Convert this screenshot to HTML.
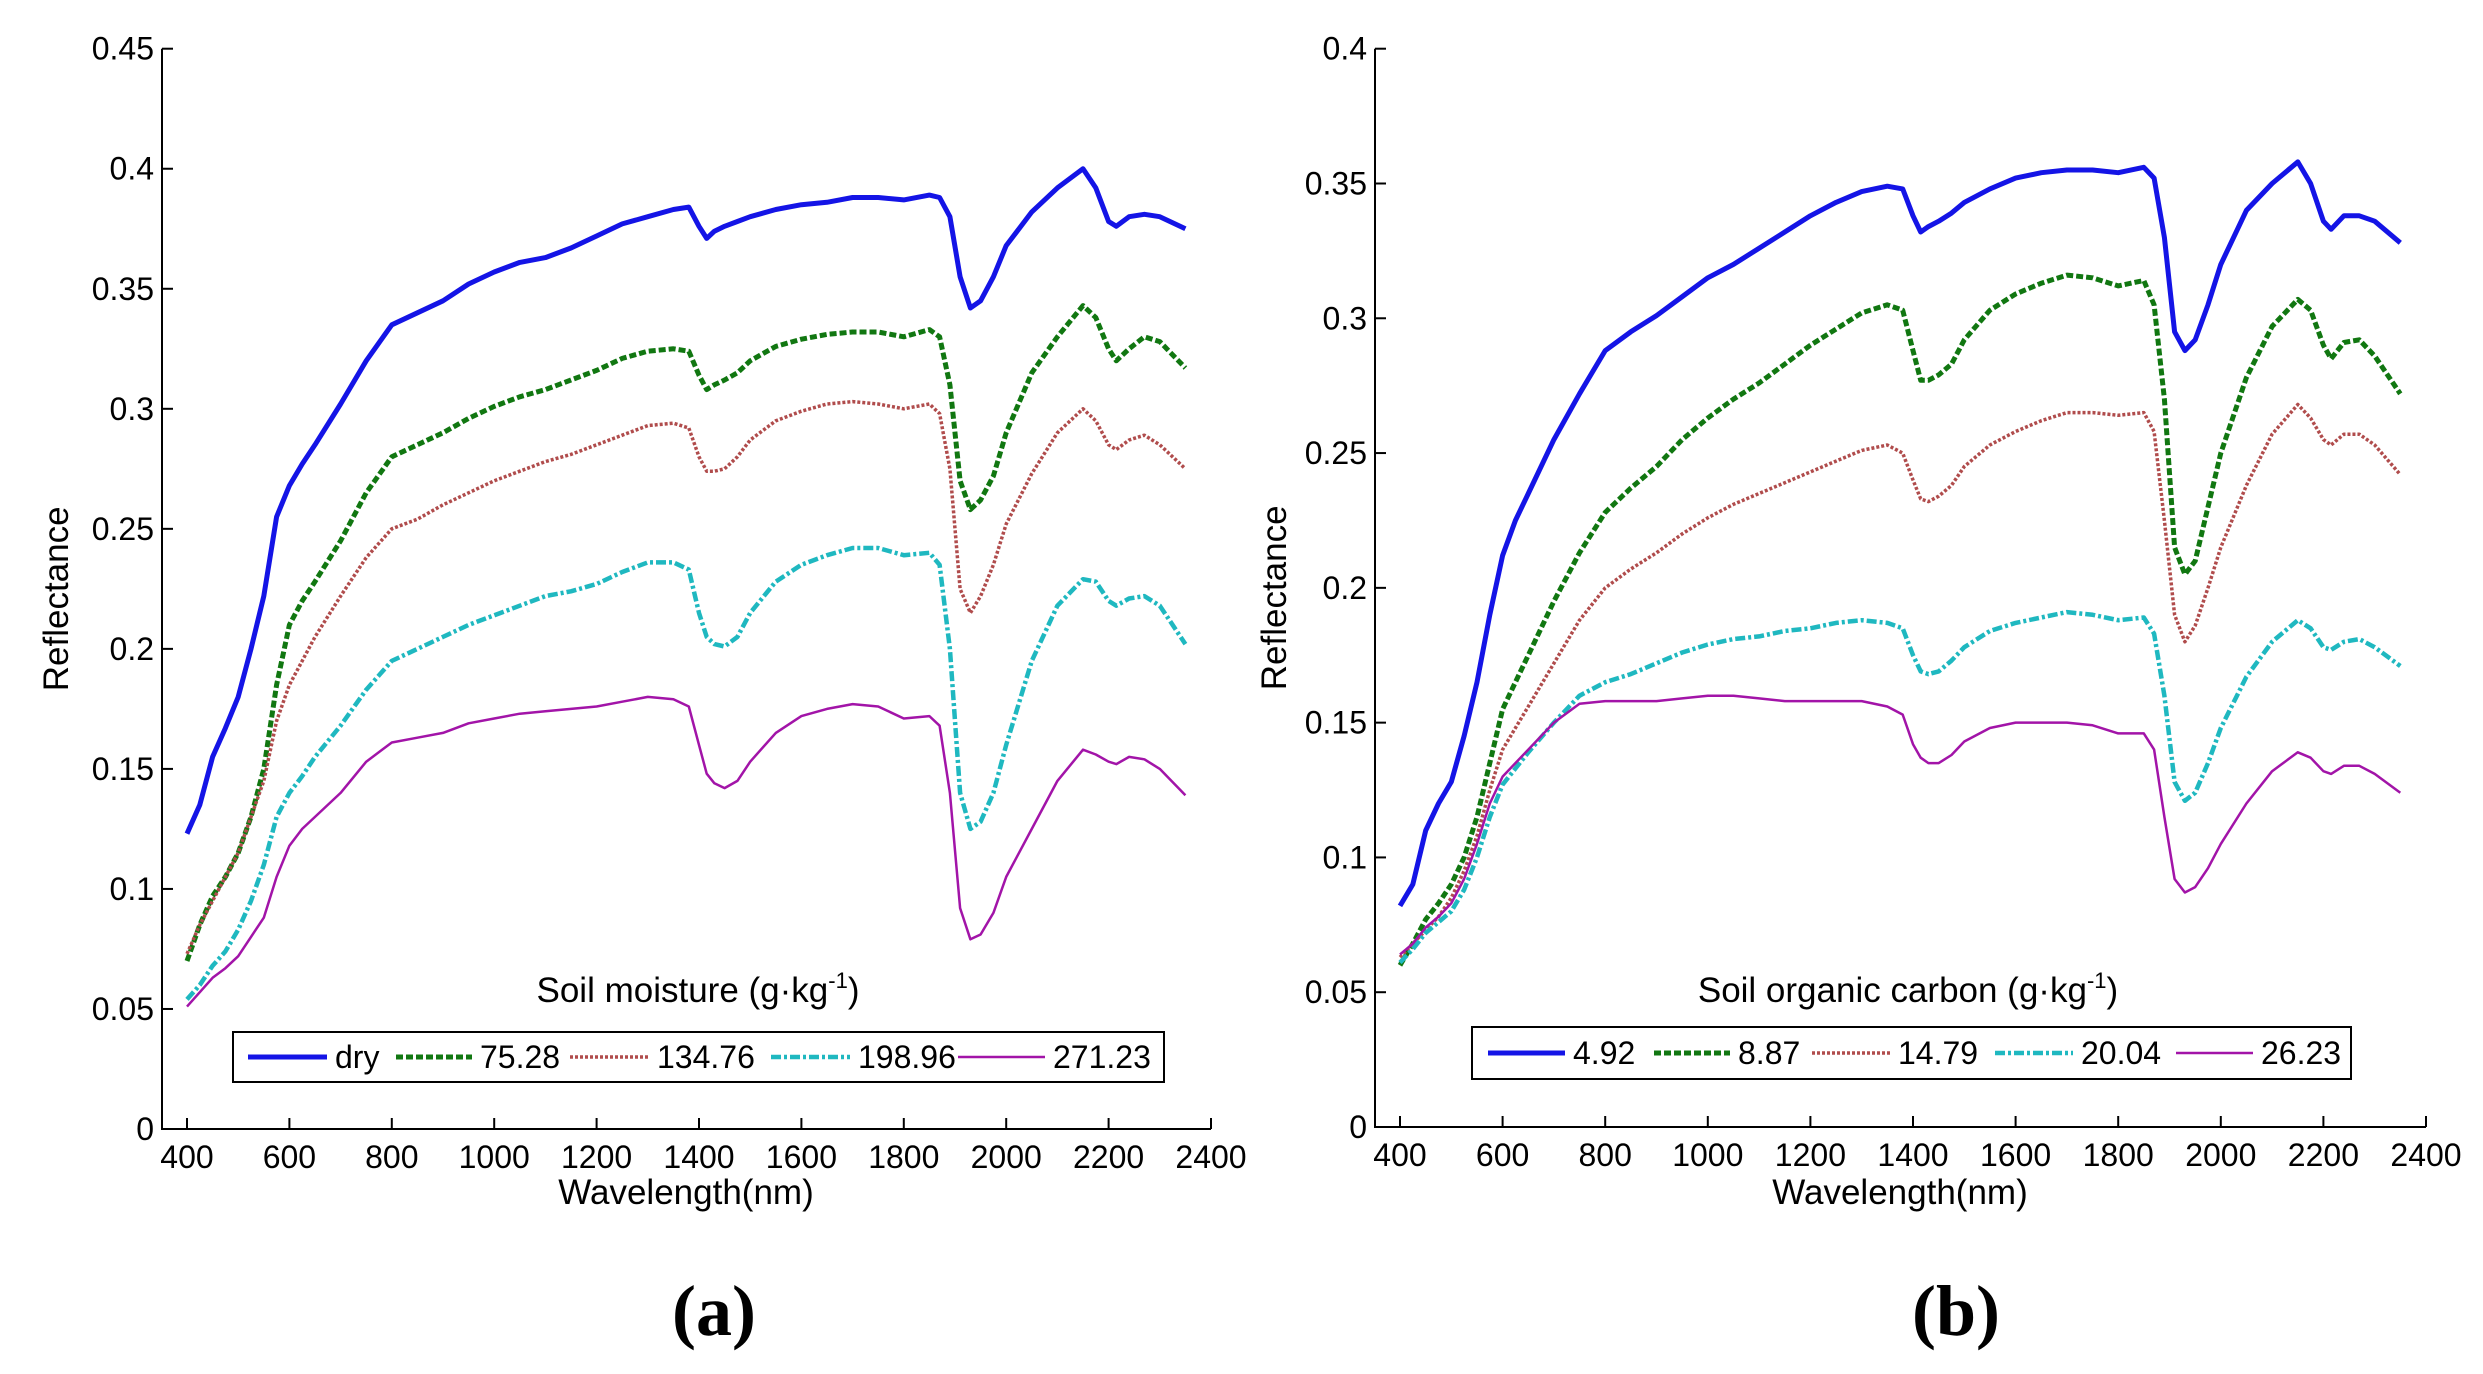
<!DOCTYPE html>
<html><head><meta charset="utf-8">
<style>
html,body{margin:0;padding:0;background:#fff;}
svg{display:block;font-family:"Liberation Sans",Arial,sans-serif;}
</style></head>
<body>
<svg id="fig" width="2483" height="1374" viewBox="0 0 2483 1374" xmlns="http://www.w3.org/2000/svg"></svg>
<script>
const wl=[400,425,450,475,500,525,550,575,600,625,650,700,750,800,850,900,950,1000,1050,1100,1150,1200,1250,1300,1350,1380,1400,1415,1430,1450,1475,1500,1550,1600,1650,1700,1750,1800,1850,1870,1890,1910,1930,1950,1975,2000,2050,2100,2150,2175,2200,2215,2240,2270,2300,2350];
const xTicks=[400,600,800,1000,1200,1400,1600,1800,2000,2200,2400];
const yTicksA=[0,0.05,0.1,0.15,0.2,0.25,0.3,0.35,0.4,0.45];
const yLabelsA=["0","0.05","0.1","0.15","0.2","0.25","0.3","0.35","0.4","0.45"];
const yTicksB=[0,0.05,0.1,0.15,0.2,0.25,0.3,0.35,0.4];
const yLabelsB=["0","0.05","0.1","0.15","0.2","0.25","0.3","0.35","0.4"];
const namesA=["dry","75.28","134.76","198.96","271.23"];
const namesB=["4.92","8.87","14.79","20.04","26.23"];
const a_dry=[0.123,0.135,0.155,0.167,0.18,0.2,0.222,0.255,0.268,0.277,0.285,0.302,0.32,0.335,0.34,0.345,0.352,0.357,0.361,0.363,0.367,0.372,0.377,0.38,0.383,0.384,0.376,0.371,0.374,0.376,0.378,0.38,0.383,0.385,0.386,0.388,0.388,0.387,0.389,0.388,0.38,0.355,0.342,0.345,0.355,0.368,0.382,0.392,0.4,0.392,0.378,0.376,0.38,0.381,0.38,0.375];
const a_7528=[0.07,0.085,0.097,0.105,0.115,0.13,0.15,0.185,0.21,0.22,0.228,0.245,0.265,0.28,0.285,0.29,0.296,0.301,0.305,0.308,0.312,0.316,0.321,0.324,0.325,0.324,0.314,0.308,0.31,0.312,0.315,0.32,0.326,0.329,0.331,0.332,0.332,0.33,0.333,0.33,0.31,0.27,0.258,0.262,0.272,0.29,0.315,0.33,0.343,0.338,0.325,0.32,0.325,0.33,0.328,0.317];
const a_13476=[0.073,0.085,0.095,0.105,0.115,0.13,0.145,0.17,0.185,0.195,0.205,0.222,0.238,0.25,0.254,0.26,0.265,0.27,0.274,0.278,0.281,0.285,0.289,0.293,0.294,0.292,0.28,0.274,0.274,0.275,0.28,0.287,0.295,0.299,0.302,0.303,0.302,0.3,0.302,0.298,0.275,0.225,0.215,0.222,0.235,0.252,0.273,0.29,0.3,0.295,0.285,0.283,0.287,0.289,0.285,0.275];
const a_19896=[0.054,0.06,0.068,0.074,0.083,0.095,0.11,0.13,0.14,0.147,0.155,0.168,0.183,0.195,0.2,0.205,0.21,0.214,0.218,0.222,0.224,0.227,0.232,0.236,0.236,0.233,0.215,0.205,0.202,0.201,0.205,0.215,0.228,0.235,0.239,0.242,0.242,0.239,0.24,0.235,0.2,0.14,0.125,0.128,0.14,0.16,0.195,0.218,0.229,0.228,0.22,0.218,0.221,0.222,0.218,0.202];
const a_27123=[0.051,0.057,0.063,0.067,0.072,0.08,0.088,0.105,0.118,0.125,0.13,0.14,0.153,0.161,0.163,0.165,0.169,0.171,0.173,0.174,0.175,0.176,0.178,0.18,0.179,0.176,0.16,0.148,0.144,0.142,0.145,0.153,0.165,0.172,0.175,0.177,0.176,0.171,0.172,0.168,0.14,0.092,0.079,0.081,0.09,0.105,0.125,0.145,0.158,0.156,0.153,0.152,0.155,0.154,0.15,0.139];
const b_492=[0.082,0.09,0.11,0.12,0.128,0.145,0.165,0.19,0.212,0.225,0.235,0.255,0.272,0.288,0.295,0.301,0.308,0.315,0.32,0.326,0.332,0.338,0.343,0.347,0.349,0.348,0.338,0.332,0.334,0.336,0.339,0.343,0.348,0.352,0.354,0.355,0.355,0.354,0.356,0.352,0.33,0.295,0.288,0.292,0.305,0.32,0.34,0.35,0.358,0.35,0.336,0.333,0.338,0.338,0.336,0.328];
const b_887=[0.06,0.068,0.077,0.083,0.09,0.1,0.115,0.135,0.155,0.165,0.175,0.195,0.213,0.228,0.237,0.245,0.255,0.263,0.27,0.276,0.283,0.29,0.296,0.302,0.305,0.303,0.288,0.277,0.277,0.279,0.283,0.292,0.303,0.309,0.313,0.316,0.315,0.312,0.314,0.305,0.27,0.215,0.205,0.21,0.23,0.25,0.278,0.297,0.307,0.303,0.29,0.285,0.291,0.292,0.286,0.272];
const b_1479=[0.063,0.068,0.073,0.078,0.085,0.095,0.108,0.125,0.14,0.148,0.156,0.172,0.188,0.2,0.207,0.213,0.22,0.226,0.231,0.235,0.239,0.243,0.247,0.251,0.253,0.25,0.24,0.233,0.232,0.234,0.238,0.245,0.253,0.258,0.262,0.265,0.265,0.264,0.265,0.258,0.225,0.19,0.18,0.186,0.2,0.215,0.238,0.257,0.268,0.263,0.255,0.253,0.257,0.257,0.253,0.242];
const b_2004=[0.061,0.066,0.072,0.076,0.08,0.088,0.1,0.115,0.127,0.133,0.139,0.15,0.16,0.165,0.168,0.172,0.176,0.179,0.181,0.182,0.184,0.185,0.187,0.188,0.187,0.185,0.175,0.169,0.168,0.169,0.173,0.178,0.184,0.187,0.189,0.191,0.19,0.188,0.189,0.183,0.16,0.128,0.121,0.124,0.135,0.148,0.167,0.18,0.188,0.185,0.178,0.177,0.18,0.181,0.178,0.171];
const b_2623=[0.064,0.068,0.074,0.078,0.083,0.092,0.105,0.12,0.13,0.135,0.14,0.15,0.157,0.158,0.158,0.158,0.159,0.16,0.16,0.159,0.158,0.158,0.158,0.158,0.156,0.153,0.142,0.137,0.135,0.135,0.138,0.143,0.148,0.15,0.15,0.15,0.149,0.146,0.146,0.14,0.115,0.092,0.087,0.089,0.096,0.105,0.12,0.132,0.139,0.137,0.132,0.131,0.134,0.134,0.131,0.124];

const NS="http://www.w3.org/2000/svg";
const svg=document.getElementById('fig');
function mk(tag,attrs,parent,txt){const e=document.createElementNS(NS,tag);for(const k in attrs)e.setAttribute(k,attrs[k]);if(txt!==undefined)e.textContent=txt;(parent||svg).appendChild(e);return e;}
const styles=[
 {stroke:"#1414e6",w:5,dash:""},
 {stroke:"#117711",w:5,dash:"7,3"},
 {stroke:"#b04c4c",w:3.5,dash:"3,2"},
 {stroke:"#1fb8c0",w:4.5,dash:"10,3,3,3"},
 {stroke:"#a214a8",w:2.5,dash:""}
];
function panel(cfg){
 const g=mk('g',{});
 
 
 const X=v=>cfg.x0+(v-400)/2000*(cfg.x1-cfg.x0);
 const Y=v=>cfg.y0-v/cfg.ymax*(cfg.y0-cfg.y1);
 const ax0=cfg.x0-25;
 const ax=mk('path',{d:`M${ax0} ${cfg.y1}V${cfg.y0}H${cfg.x1}`,fill:'none',stroke:'#000','stroke-width':2},g);
 
 
 cfg.yt.forEach((v,i)=>{
  const tk=mk('line',{x1:ax0,x2:ax0+11,y1:Y(v),y2:Y(v),stroke:'#000','stroke-width':2},g);
  
  
  const t=mk('text',{x:ax0-8,y:Y(v)+11,'text-anchor':'end','font-size':32},g,cfg.yl[i]);
  
  
 });
 xTicks.forEach(v=>{
  const tk=mk('line',{x1:X(v),x2:X(v),y1:cfg.y0,y2:cfg.y0-11,stroke:'#000','stroke-width':2},g);
  
  
  const t=mk('text',{x:X(v),y:cfg.y0+39,'text-anchor':'middle','font-size':32},g,String(v));
  
  
 });
 const xl=mk('text',{x:cfg.xlx,y:1204,'text-anchor':'middle','font-size':35},g,'Wavelength(nm)');
 
 
 const yl=mk('text',{x:0,y:0,'text-anchor':'middle','font-size':35,transform:`translate(${cfg.ylx},${(cfg.y0+cfg.y1)/2+10}) rotate(-90)`},g,'Reflectance');
 
 
 cfg.series.forEach((s,i)=>{
  const d=wl.map((w,j)=>(j?'L':'M')+X(w).toFixed(1)+' '+Y(s[j]).toFixed(1)).join('');
  const st=styles[i];
  const p=mk('path',{d:d,fill:'none',stroke:st.stroke,'stroke-width':st.w,'stroke-dasharray':st.dash,'stroke-linejoin':'round'},g);
  
  
 });
 const lt=mk('text',{x:cfg.ltx,y:1002,'text-anchor':'middle','font-size':35},g);
 
 
 lt.textContent=cfg.ltitle+' (g\u00b7kg';
 mk('tspan',{dy:-14,'font-size':22},lt,'-1');
 mk('tspan',{dy:14},lt,')');
 const lb=mk('rect',{x:cfg.lx0,y:cfg.ly0,width:cfg.lx1-cfg.lx0,height:cfg.ly1-cfg.ly0,fill:'#fff',stroke:'#000','stroke-width':2},g);
 
 
 const ly=(cfg.ly0+cfg.ly1)/2;
 cfg.names.forEach((n,i)=>{
  const st=styles[i];
  const l=mk('line',{x1:cfg.lent[i][0],x2:cfg.lent[i][1],y1:ly,y2:ly,stroke:st.stroke,'stroke-width':st.w,'stroke-dasharray':st.dash},g);
  
  
  const t=mk('text',{x:cfg.lent[i][1]+8,y:ly+11,'font-size':32},g,n);
  
  
 });
 const cap=mk('text',{x:cfg.capx,y:1335,'text-anchor':'middle','font-size':72,'font-weight':'bold','font-family':'"Liberation Serif",serif'},g,cfg.cap);
 
 
}
panel({id:'panel-a',x0:187,x1:1211,y0:1129,y1:48.7,ymax:0.45,yt:yTicksA,yl:yLabelsA,names:namesA,
 series:[a_dry,a_7528,a_13476,a_19896,a_27123],xlx:686,ylx:68,ltx:698,ltitle:'Soil moisture',
 lx0:233,lx1:1164,ly0:1032,ly1:1082,lent:[[248,327],[396,472],[570,649],[771,850],[958,1045]],capx:714,cap:'(a)'});
panel({id:'panel-b',x0:1400,x1:2426,y0:1127,y1:48.7,ymax:0.4,yt:yTicksB,yl:yLabelsB,names:namesB,
 series:[b_492,b_887,b_1479,b_2004,b_2623],xlx:1900,ylx:1286,ltx:1908,ltitle:'Soil organic carbon',
 lx0:1472,lx1:2351,ly0:1027,ly1:1079,lent:[[1488,1565],[1654,1730],[1812,1890],[1995,2073],[2176,2253]],capx:1956,cap:'(b)'});
</script>
</body></html>
